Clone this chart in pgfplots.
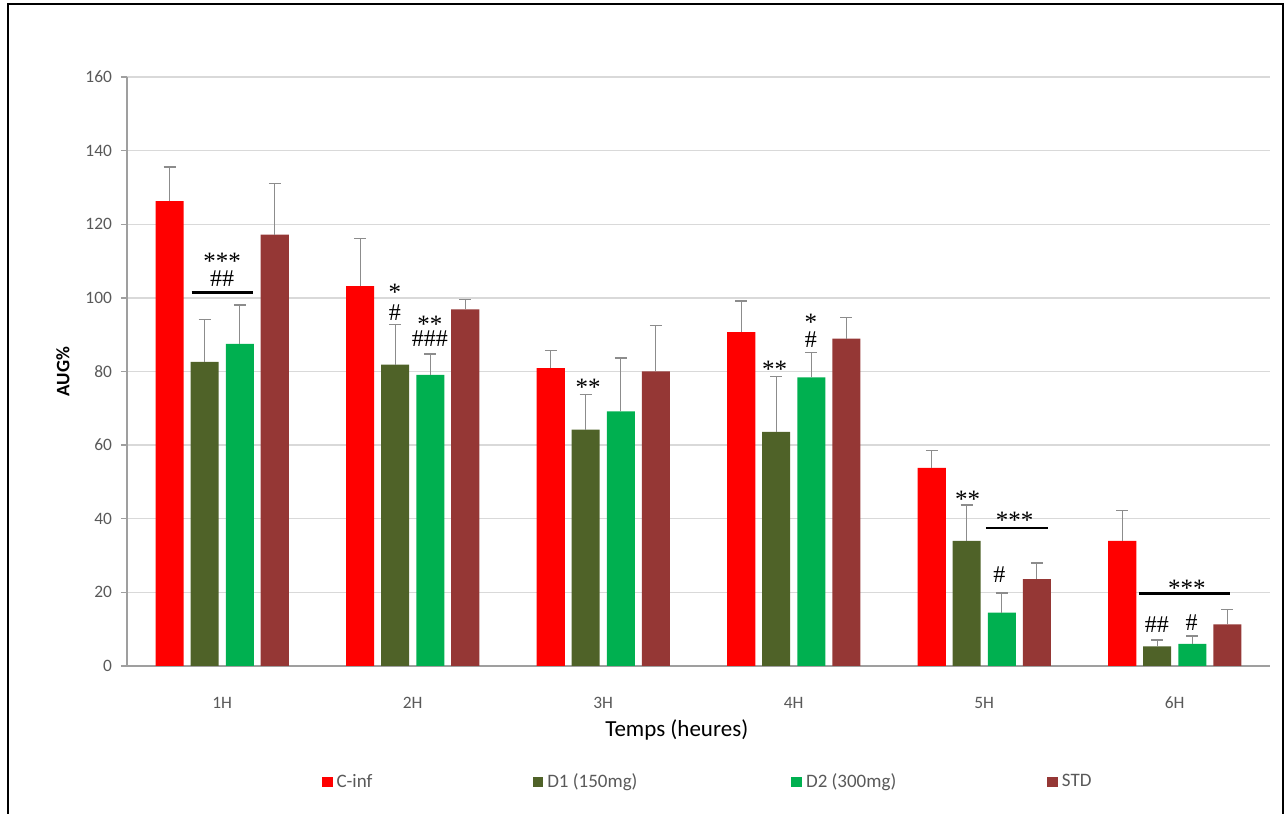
\documentclass[border=0pt]{standalone}
\usepackage{pgfplots}
\usepackage{pgfplotstable}
\pgfplotsset{compat=1.18}
\usepackage{fontspec}
\setmainfont{Carlito}
\newfontfamily\annot{Liberation Serif}
\definecolor{cinf}{HTML}{FF0000}
\definecolor{done}{HTML}{4F6228}
\definecolor{dtwo}{HTML}{00B050}
\definecolor{std}{HTML}{953735}
\definecolor{txtgray}{HTML}{595959}
\definecolor{errgray}{HTML}{8C8C8C}
\definecolor{gridgray}{HTML}{D9D9D9}
\newcommand{\astbox}[1]{\raisebox{-0.3em}[0.38em][0pt]{#1}}
\tikzset{
  ast/.style={font=\annot\fontsize{12.5}{13}\selectfont, inner sep=0pt},
  hsh/.style={font=\annot\fontsize{12}{13}\selectfont, inner sep=0pt},
}

\pgfplotstableread{
x y e
0 126.3 9.3
1 103.2 13.0
2 80.9 4.8
3 90.7 8.5
4 53.8 4.7
5 34.0 8.2
}\cinfdata
\pgfplotstableread{
x y e
0 82.6 11.5
1 81.9 10.8
2 64.2 9.6
3 63.6 15.0
4 34.0 9.7
5 5.3 1.8
}\donedata
\pgfplotstableread{
x y e
0 87.5 10.6
1 79.1 5.6
2 69.2 14.5
3 78.4 6.8
4 14.5 5.3
5 6.0 2.1
}\dtwodata
\pgfplotstableread{
x y e
0 117.2 13.8
1 96.9 2.6
2 80.0 12.5
3 88.9 5.8
4 23.6 4.4
5 11.3 4.0
}\stddata

\begin{document}
\begin{tikzpicture}
\begin{axis}[
  at={(0,0)}, anchor=south west,
  scale only axis, width=571.5pt, height=294.5pt,
  xmin=-0.5, xmax=5.5, ymin=0, ymax=160,
  ytick={0,20,...,160},
  xtick={0,1,2,3,4,5}, xticklabels={1H,2H,3H,4H,5H,6H},
  /pgf/number format/assume math mode=true,
  axis x line*=bottom, axis y line*=left,
  axis line style={draw=gray!75, line width=0.7pt},
  x axis line style={-}, y axis line style={-},
  ymajorgrids, grid style={gridgray, line width=0.7pt},
  ytick style={draw=gray!75, line width=0.7pt}, tick align=outside,
  major tick length=3pt,
  xtick style={draw=none},
  ticklabel style={font=\fontsize{8.7}{10}\selectfont, text=txtgray},
  xticklabel style={yshift=-9pt},
  yticklabel style={xshift=-1pt},
  xlabel={Temps (heures)},
  xlabel style={at={(axis description cs:0.481,-0.109)}, anchor=center, font=\fontsize{11.5}{13}\selectfont},
  ylabel={AUG\%},
  ylabel style={at={(axis description cs:-0.056,0.5)}, anchor=center, font=\fontsize{9.5}{11}\selectfont\bfseries},
  mybar/.style={ybar, bar width=0.147, bar shift=0, draw=none,
    legend image code/.code={\fill[##1] (0pt,-2.7pt) rectangle (5.4pt,2.7pt);},
    error bars/y dir=plus, error bars/y explicit,
    error bars/error bar style={errgray, line width=0.7pt},
    error bars/error mark options={rotate=90, mark size=3pt, errgray, line width=0.7pt}},
  legend style={draw=none, fill=none, inner sep=0pt, legend columns=4,
    at={(0.17,-0.197)}, anchor=west,
    font=\fontsize{9.5}{11}\selectfont, text=txtgray,
    /tikz/every odd column/.style={column sep=0pt}},
  legend cell align=left,
]
\addplot[mybar, fill=cinf] table[x expr=\thisrow{x}-0.2756, y=y, y error=e] {\cinfdata};
\addlegendentry{\makebox[96pt][l]{C-inf}}
\addplot[mybar, fill=done] table[x expr=\thisrow{x}-0.0919, y=y, y error=e] {\donedata};
\addlegendentry{\makebox[120pt][l]{D1 (150mg)}}
\addplot[mybar, fill=dtwo] table[x expr=\thisrow{x}+0.0919, y=y, y error=e] {\dtwodata};
\addlegendentry{\makebox[118.5pt][l]{D2 (300mg)}}
\addplot[mybar, fill=std] table[x expr=\thisrow{x}+0.2756, y=y, y error=e] {\stddata};
\addlegendentry{STD}

% annotations 1H
\node[ast] at (axis cs:0,110.9) {\astbox{***}};
\node[hsh] at (axis cs:0,105.2) {\#\#};
\draw[line width=1.4pt] (axis cs:-0.161,101.4) -- (axis cs:0.161,101.4);
% 2H
\node[ast] at (axis cs:0.906,102.7) {\astbox{*}};
\node[hsh] at (axis cs:0.906,95.9) {\#};
\node[ast] at (axis cs:1.09,93.8) {\astbox{**}};
\node[hsh] at (axis cs:1.09,89) {\#\#\#};
% 3H
\node[ast] at (axis cs:1.92,76.9) {\astbox{**}};
% 4H
\node[ast] at (axis cs:2.9,81.8) {\astbox{**}};
\node[ast] at (axis cs:3.09,94.5) {\astbox{*}};
\node[hsh] at (axis cs:3.09,88.6) {\#};
% 5H
\node[ast] at (axis cs:3.913,46.5) {\astbox{**}};
\draw[line width=1.4pt] (axis cs:4.008,37.5) -- (axis cs:4.333,37.5);
\node[ast] at (axis cs:4.16,40.8) {\astbox{***}};
\node[hsh] at (axis cs:4.08,24.7) {\#};
% 6H
\draw[line width=1.4pt] (axis cs:4.81,19.6) -- (axis cs:5.29,19.6);
\node[ast] at (axis cs:5.063,22.3) {\astbox{***}};
\node[hsh] at (axis cs:4.906,11.1) {\#\#};
\node[hsh] at (axis cs:5.089,11.7) {\#};
\end{axis}
\draw[line width=1.1pt, black] (-59.5pt,-80pt) -- (-59.5pt,331pt) -- (578pt,331pt) -- (578pt,-80pt);
\pgfresetboundingbox
\useasboundingbox (-63.5pt,-74pt) rectangle (580pt,333pt);
\end{tikzpicture}
\end{document}
